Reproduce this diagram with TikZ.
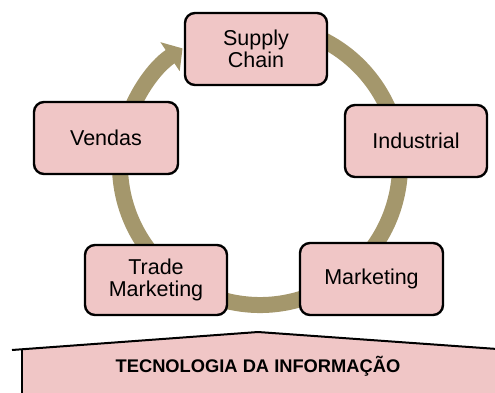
\documentclass[tikz,border=0pt]{standalone}
\usepackage{fontspec}
\setmainfont{Liberation Sans}
\usetikzlibrary{arrows.meta}
\definecolor{boxpink}{HTML}{F0C6C6}
\definecolor{ringolive}{HTML}{A4976C}
\begin{document}
\begin{tikzpicture}[x=1pt,y=1pt,
  unit/.style={draw=black, line width=2.4pt, fill=boxpink, rounded corners=10pt,
    minimum width=142pt, minimum height=72pt, align=center, inner sep=0pt,
    font=\fontsize{21.5}{22.5}\selectfont},
  ring/.style={ringolive, line width=16pt, -{Triangle[width=34pt,length=15pt]}},
  roofline/.style={draw=black, line width=2pt},
]
\useasboundingbox (0,0) rectangle (495,392);
\coordinate (c) at (260,227);
% circular arrow
\draw[ring] (c) ++(75:140) arc[start angle=75, end angle=-236.4, radius=140];
% boxes
\node[unit] (supply) at (256,343) {Supply\\Chain};
\node[unit, minimum width=144pt] (vendas) at (106,254) {Vendas};
\node[unit] (industrial) at (416,251) {Industrial};
\node[unit, minimum height=70pt] (trade) at (156,112) {Trade\\Marketing};
\node[unit, minimum width=143pt] (marketing) at (371.5,113) {Marketing};
% roof / base
\fill[boxpink] (22,-5) -- (22,42.7) -- (258,60) -- (500,42.8) -- (500,-5) -- cycle;
\draw[roofline] (12,42) -- (258,60) -- (500,42.8);
\draw[roofline] (22,42.7) -- (22,-5);
\node[font=\fontsize{18.3}{20}\selectfont\bfseries] (ti) at (258,26) {TECNOLOGIA DA INFORMAÇÃO};
\end{tikzpicture}
\end{document}
